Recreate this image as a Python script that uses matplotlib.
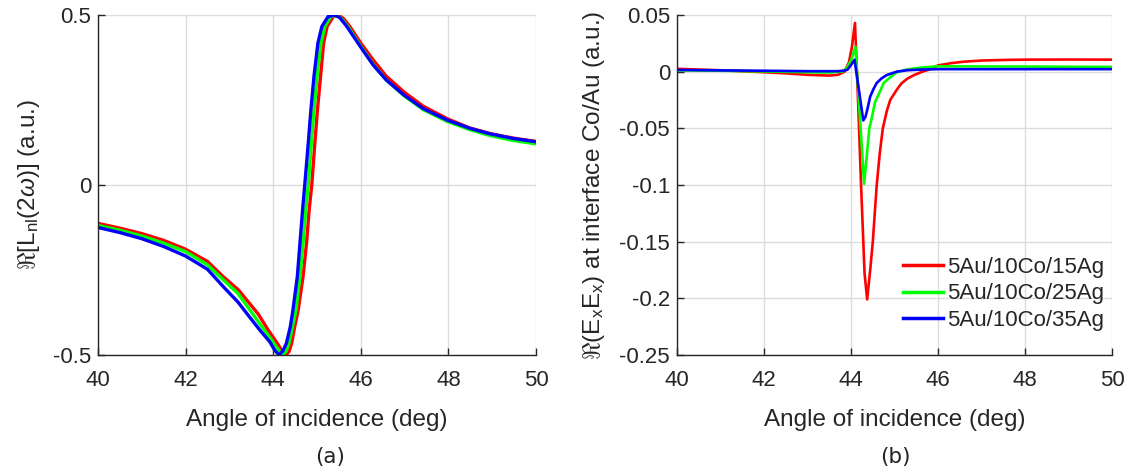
import matplotlib
matplotlib.use('Agg')
import matplotlib.pyplot as plt

# ---------------- data ----------------
# Panel (a): Re[L_nl(2w)] vs angle of incidence
ang_red_a = [40, 40.5, 41, 41.5, 42, 42.5, 42.86, 43.2, 43.47, 43.66, 43.88, 44.11, 44.2, 44.29,
             44.36, 44.42, 44.49, 44.57, 44.68, 44.76, 44.82, 44.88, 44.95, 45.01, 45.08, 45.15,
             45.23, 45.37, 45.48, 45.6, 45.75, 45.99, 46.28, 46.58, 46.98, 47.42, 47.97, 48.48,
             48.96, 49.47, 50.0]
red_a = [-0.113, -0.127, -0.143, -0.163, -0.189, -0.225, -0.27, -0.308, -0.35, -0.38, -0.426,
         -0.469, -0.488, -0.5, -0.49, -0.466, -0.417, -0.368, -0.27, -0.172, -0.074, 0.0, 0.123,
         0.221, 0.319, 0.417, 0.466, 0.495, 0.5, 0.49, 0.466, 0.419, 0.368, 0.32, 0.274, 0.232,
         0.195, 0.168, 0.151, 0.138, 0.128]

ang_green_a = [40, 40.5, 41, 41.5, 42, 42.5, 42.86, 43.2, 43.47, 43.69, 43.92, 44.07, 44.21,
               44.29, 44.36, 44.44, 44.52, 44.61, 44.68, 44.74, 44.8, 44.87, 44.93, 45.0, 45.09,
               45.18, 45.31, 45.44, 45.55, 45.7, 45.99, 46.28, 46.58, 46.98, 47.42, 47.97, 48.48,
               48.96, 49.47, 50.0]
green_a = [-0.119, -0.133, -0.15, -0.171, -0.196, -0.235, -0.279, -0.32, -0.368, -0.408, -0.448,
           -0.476, -0.5, -0.49, -0.466, -0.417, -0.368, -0.27, -0.172, -0.074, 0.0, 0.123, 0.221,
           0.319, 0.417, 0.466, 0.495, 0.5, 0.49, 0.467, 0.41, 0.355, 0.309, 0.263, 0.222, 0.187,
           0.163, 0.145, 0.131, 0.121]

ang_blue_a = [40, 40.5, 41, 41.5, 42, 42.5, 42.86, 43.2, 43.47, 43.69, 43.92, 44.04, 44.135,
              44.22, 44.3, 44.39, 44.45, 44.55, 44.61, 44.67, 44.72, 44.8, 44.86, 44.93, 45.02,
              45.11, 45.25, 45.4, 45.52, 45.67, 45.99, 46.28, 46.58, 46.98, 47.42, 47.97, 48.48,
              48.96, 49.47, 50.0]
blue_a = [-0.125, -0.14, -0.158, -0.181, -0.209, -0.248, -0.299, -0.345, -0.39, -0.426, -0.461,
          -0.487, -0.5, -0.488, -0.466, -0.417, -0.368, -0.27, -0.172, -0.074, 0.0, 0.123, 0.221,
          0.319, 0.417, 0.466, 0.495, 0.5, 0.492, 0.468, 0.407, 0.353, 0.309, 0.265, 0.225,
          0.191, 0.167, 0.15, 0.137, 0.127]

# Panel (b): Re(ExEx) at interface Co/Au
ang_red_b = [40, 41, 42, 42.5, 43, 43.5, 43.7, 43.85, 43.95, 44.02, 44.09, 44.16, 44.23, 44.31,
             44.37, 44.44, 44.5, 44.59, 44.66, 44.73, 44.82, 44.9, 45.05, 45.16, 45.3, 45.45,
             45.64, 45.8, 46.0, 46.3, 46.6, 47.0, 47.5, 48.0, 49.0, 50.0]
red_b = [0.0025, 0.0012, -0.0005, -0.0015, -0.0028, -0.0035, -0.0028, 0.0, 0.008, 0.022, 0.043,
         -0.025, -0.1, -0.178, -0.201, -0.175, -0.15, -0.1, -0.072, -0.05, -0.035, -0.025, -0.016,
         -0.0103, -0.006, -0.003, 0.0, 0.002, 0.0055, 0.0075, 0.0088, 0.0098, 0.0103, 0.0106,
         0.0107, 0.0106]

ang_green_b = [40, 41, 42, 43, 43.5, 43.8, 43.9, 44.0, 44.1, 44.2, 44.3, 44.36, 44.42, 44.47,
               44.55, 44.67, 44.75, 44.9, 45.05, 45.3, 45.6, 46.0, 47.0, 48.0, 49.0, 50.0]
green_b = [0.0012, 0.0008, 0.0002, -0.0005, -0.0008, 0.0, 0.003, 0.01, 0.022, -0.038, -0.099,
           -0.075, -0.05, -0.042, -0.027, -0.017, -0.01, -0.005, -0.0005, 0.002, 0.0035, 0.0047,
           0.0046, 0.0045, 0.0043, 0.0042]

ang_blue_b = [40, 41, 42, 43, 43.7, 43.86, 43.92, 44.0, 44.08, 44.18, 44.28, 44.33, 44.37, 44.44,
              44.52, 44.59, 44.7, 44.82, 45.05, 45.3, 45.6, 46.0, 47.0, 48.0, 50.0]
blue_b = [0.0015, 0.0011, 0.0008, 0.0004, 0.0004, 0.001, 0.0018, 0.006, 0.0105, -0.016, -0.043,
          -0.04, -0.034, -0.022, -0.015, -0.010, -0.006, -0.003, 0.0, 0.0013, 0.0018, 0.0022,
          0.0022, 0.0022, 0.0022]

series_labels = ['5Au/10Co/15Ag', '5Au/10Co/25Ag', '5Au/10Co/35Ag']
series_colors = ['#ff0000', '#00ff00', '#0000ff']

x_ticks = [40, 42, 44, 46, 48, 50]
y_ticks_a = [-0.5, 0, 0.5]
y_ticklabels_a = ['-0.5', '0', '0.5']
y_ticks_b = [-0.25, -0.2, -0.15, -0.1, -0.05, 0, 0.05]
y_ticklabels_b = ['-0.25', '-0.2', '-0.15', '-0.1', '-0.05', '0', '0.05']

# ---------------- style ----------------
plt.rcParams['font.family'] = ['Liberation Sans', 'DejaVu Sans']
plt.rcParams['mathtext.fontset'] = 'custom'
plt.rcParams['mathtext.rm'] = 'Liberation Sans'
plt.rcParams['mathtext.it'] = 'Liberation Sans:italic'
plt.rcParams['axes.unicode_minus'] = False

DARK = '#262626'
fig = plt.figure(figsize=(11.29, 4.74), dpi=100)
axA = fig.add_axes([0.0868, 0.2511, 0.388, 0.7173])
axB = fig.add_axes([0.5997, 0.2511, 0.3853, 0.7173])


def style(ax):
    for s in ['top', 'right']:
        ax.spines[s].set_visible(False)
    for s in ['left', 'bottom']:
        ax.spines[s].set_color(DARK)
        ax.spines[s].set_linewidth(1.0)
    ax.tick_params(direction='in', length=5, width=1, colors=DARK, labelsize=16)
    ax.tick_params(axis='x', pad=11)
    ax.tick_params(axis='y', pad=5)
    ax.grid(True, color='#dcdcdc', lw=1.0)
    ax.set_axisbelow(True)
    ax.set_xlim(40, 50)
    ax.set_xticks(x_ticks)
    ax.set_xticklabels([str(t) for t in x_ticks])


style(axA)
style(axB)

for xs, ys, c in zip([ang_red_a, ang_green_a, ang_blue_a], [red_a, green_a, blue_a], series_colors):
    axA.plot(xs, ys, color=c, lw=2.4, solid_joinstyle='round')
axA.set_ylim(-0.5, 0.5)
axA.set_yticks(y_ticks_a)
axA.set_yticklabels(y_ticklabels_a)
axA.set_xlabel('Angle of incidence (deg)', fontsize=17.5, color=DARK)
axA.set_ylabel(r'$\Re$[L$_{\mathrm{nl}}$(2$\omega$)] (a.u.)', fontsize=17.5, color=DARK)
axA.xaxis.set_label_coords(0.5, -0.159)
axA.yaxis.set_label_coords(-0.128, 0.5)

for xs, ys, c, lab in zip([ang_red_b, ang_green_b, ang_blue_b], [red_b, green_b, blue_b],
                          series_colors, series_labels):
    axB.plot(xs, ys, color=c, lw=1.9, label=lab, solid_joinstyle='round')
axB.set_ylim(-0.25, 0.05)
axB.set_yticks(y_ticks_b)
axB.set_yticklabels(y_ticklabels_b)
axB.set_xlabel('Angle of incidence (deg)', fontsize=17.5, color=DARK)
axB.set_ylabel(r'$\Re$(E$_{\mathrm{x}}$E$_{\mathrm{x}}$) at interface Co/Au (a.u.)',
               fontsize=17.5, color=DARK)
axB.xaxis.set_label_coords(0.5, -0.159)
axB.yaxis.set_label_coords(-0.161, 0.5)

leg = axB.legend(loc='center left', bbox_to_anchor=(0.52, 0.18), frameon=False,
                 fontsize=16, handlelength=1.8, handletextpad=0.15, labelspacing=0.26,
                 borderpad=0, borderaxespad=0)
for line in leg.get_lines():
    line.set_linewidth(2.5)
for t in leg.get_texts():
    t.set_color(DARK)

fig.text(330 / 1129, 0.036, '(a)', fontsize=15.5, family='DejaVu Sans', ha='center',
         va='center', color='#222222')
fig.text(895 / 1129, 0.036, '(b)', fontsize=15.5, family='DejaVu Sans', ha='center',
         va='center', color='#222222')

fig.savefig('out.png', dpi=100)
